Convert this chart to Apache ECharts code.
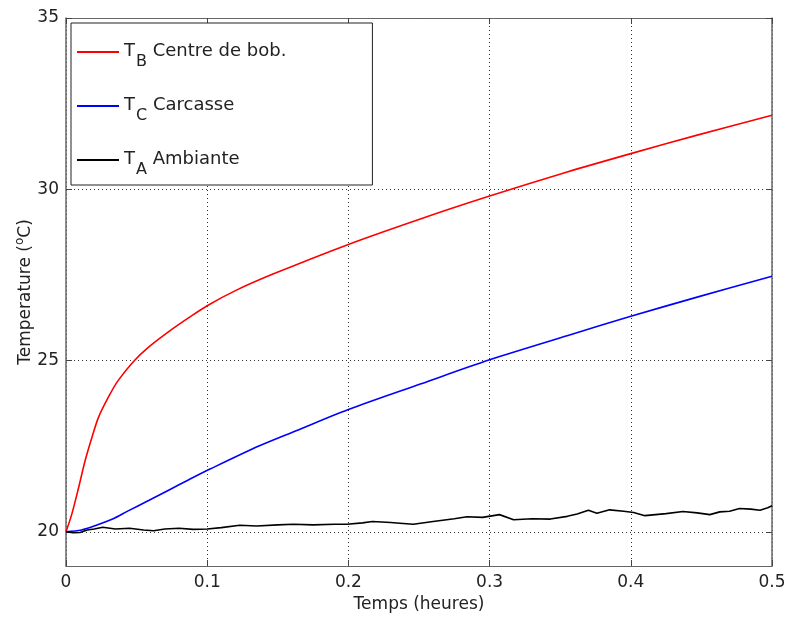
<!DOCTYPE html>
<html>
<head>
<meta charset="utf-8">
<script src="https://cdn.jsdelivr.net/npm/echarts@6/dist/echarts.min.js"></script>
<style>html,body{margin:0;padding:0;background:#fff;}#c{width:789px;height:617px;}</style>
</head>
<body>
<div id="c"></div>
<script>
// Data
const xTicks = [0, 0.1, 0.2, 0.3, 0.4, 0.5];
const yTicks = [20, 25, 30, 35];

const redX = [0, 0.004, 0.009, 0.0137, 0.0184, 0.023, 0.030, 0.037, 0.048, 0.0585, 0.073, 0.087, 0.100, 0.12, 0.147, 0.2, 0.2515, 0.3, 0.3555, 0.4, 0.447, 0.5];
const redY = [20.0, 20.5, 21.3, 22.1, 22.76, 23.34, 23.93, 24.42, 24.98, 25.39, 25.85, 26.25, 26.6, 27.04, 27.53, 28.39, 29.14, 29.80, 30.51, 31.04, 31.58, 32.16];

const blueX = [0, 0.011, 0.021, 0.033, 0.044, 0.0585, 0.073, 0.087, 0.102, 0.137, 0.163, 0.2, 0.2515, 0.3, 0.3555, 0.4, 0.447, 0.5];
const blueY = [20.0, 20.05, 20.18, 20.37, 20.61, 20.91, 21.22, 21.52, 21.83, 22.51, 22.95, 23.57, 24.32, 25.02, 25.73, 26.29, 26.85, 27.46];

const blackX = [0, 0.005, 0.01, 0.015, 0.02, 0.026, 0.035, 0.045, 0.055, 0.062, 0.07, 0.08, 0.09, 0.1, 0.11, 0.123, 0.135, 0.15, 0.161, 0.175, 0.19, 0.199, 0.21, 0.217, 0.23, 0.2365, 0.246, 0.26, 0.275, 0.284, 0.295, 0.307, 0.317, 0.33, 0.343, 0.355, 0.362, 0.37, 0.376, 0.385, 0.395, 0.402, 0.41, 0.425, 0.437, 0.447, 0.456, 0.463, 0.47, 0.477, 0.485, 0.4915, 0.497, 0.5];
const blackY = [20.0, 19.97, 19.98, 20.05, 20.08, 20.13, 20.08, 20.1, 20.05, 20.03, 20.08, 20.1, 20.07, 20.08, 20.12, 20.19, 20.17, 20.2, 20.22, 20.2, 20.22, 20.22, 20.26, 20.3, 20.27, 20.25, 20.22, 20.3, 20.38, 20.44, 20.42, 20.5, 20.35, 20.38, 20.37, 20.45, 20.52, 20.63, 20.54, 20.64, 20.6, 20.56, 20.47, 20.53, 20.59, 20.55, 20.5, 20.58, 20.6, 20.68, 20.66, 20.63, 20.7, 20.76];

const names = ['TB', 'TC', 'TA'];
const legendLabels = {
  TB: '{t|T}{s|B}{t| Centre de bob.}',
  TC: '{t|T}{s|C}{t| Carcasse}',
  TA: '{t|T}{s|A}{t| Ambiante}'
};

function pairs(xs, ys) { return xs.map((x, i) => [x, ys[i]]); }

const FONT = 'DejaVu Sans';
const frameColor = '#666';
const gridLine = { show: true, lineStyle: { color: '#333', type: [1, 3], width: 1 } };

const chart = echarts.init(document.getElementById('c'), null, { renderer: 'canvas' });
chart.setOption({
  backgroundColor: '#fff',
  animation: false,
  textStyle: { fontFamily: FONT },
  grid: { left: 66, right: 17, top: 18, bottom: 51, containLabel: false, outerBoundsMode: 'none' },
  legend: {
    data: names,
    orient: 'vertical',
    left: 71,
    top: 23,
    padding: [19, 86, 7, 6],
    itemGap: 26,
    itemWidth: 42,
    itemHeight: 2,
    icon: 'rect',
    backgroundColor: '#fff',
    borderColor: '#222',
    borderWidth: 1,
    formatter: n => legendLabels[n],
    textStyle: {
      fontFamily: FONT,
      rich: {
        t: { fontSize: 18, color: '#222', lineHeight: 20, verticalAlign: 'top', fontFamily: FONT },
        s: { fontSize: 16, color: '#222', lineHeight: 20, padding: [12, 0, 0, 1], verticalAlign: 'top', fontFamily: FONT }
      }
    }
  },
  xAxis: [{
    type: 'value', min: 0, max: 0.5, interval: 0.1, position: 'bottom',
    name: 'Temps (heures)', nameLocation: 'middle', nameGap: 30, nameMoveOverlap: false,
    nameTextStyle: { fontSize: 17, color: '#222', fontFamily: FONT },
    axisLine: { show: true, onZero: false, lineStyle: { color: frameColor, width: 1 } },
    axisTick: { show: true, inside: true, length: 6, lineStyle: { color: '#444' } },
    axisLabel: { fontSize: 17, color: '#222', margin: 8, fontFamily: FONT },
    splitLine: gridLine
  }, {
    type: 'value', min: 0, max: 0.5, interval: 0.1, position: 'top',
    axisLine: { show: true, onZero: false, lineStyle: { color: frameColor, width: 1 } },
    axisTick: { show: true, inside: true, length: 6, lineStyle: { color: '#444' } },
    axisLabel: { show: false },
    splitLine: { show: false }
  }],
  yAxis: [{
    type: 'value', min: 19, max: 35, position: 'left',
    name: '{n|Temperature (}{sup|o}{n|C)}', nameLocation: 'middle', nameGap: 32, nameRotate: 90, nameMoveOverlap: false,
    nameTextStyle: {
      rich: {
        n: { fontSize: 17, color: '#222', fontFamily: FONT, lineHeight: 20, verticalAlign: 'bottom' },
        sup: { fontSize: 12, color: '#222', fontFamily: FONT, lineHeight: 20, padding: [0, 0, 8, 0], verticalAlign: 'bottom' }
      }
    },
    axisLine: { show: true, onZero: false, lineStyle: { color: frameColor, width: 1.5 } },
    axisTick: { show: true, inside: true, length: 6, customValues: yTicks, lineStyle: { color: '#444' } },
    axisLabel: { fontSize: 17, color: '#222', margin: 7, customValues: yTicks, fontFamily: FONT },
    splitLine: gridLine
  }, {
    type: 'value', min: 19, max: 35, position: 'right',
    axisLine: { show: true, onZero: false, lineStyle: { color: frameColor, width: 1.5 } },
    axisTick: { show: true, inside: true, length: 6, customValues: yTicks, lineStyle: { color: '#444' } },
    axisLabel: { show: false },
    splitLine: { show: false }
  }],
  series: [{
    name: 'TB', type: 'line', showSymbol: false, smooth: 0.3,
    data: pairs(redX, redY), color: '#ff0000',
    lineStyle: { color: '#ff0000', width: 1.6 }
  }, {
    name: 'TC', type: 'line', showSymbol: false, smooth: 0.3,
    data: pairs(blueX, blueY), color: '#0000ff',
    lineStyle: { color: '#0000ff', width: 1.6 }
  }, {
    name: 'TA', type: 'line', showSymbol: false, smooth: false,
    data: pairs(blackX, blackY), color: '#000000',
    lineStyle: { color: '#000000', width: 1.6 }
  }]
});
</script>
</body>
</html>
